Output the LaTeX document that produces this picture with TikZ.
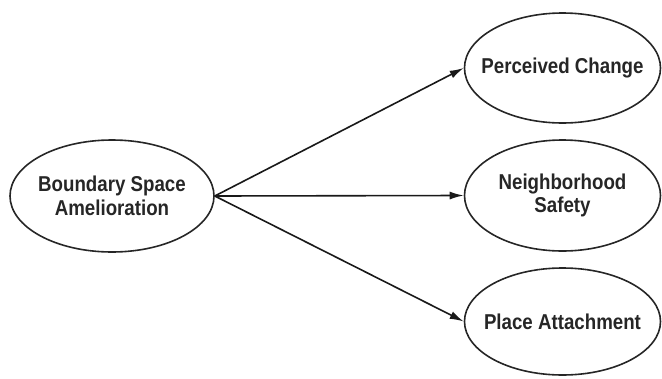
\documentclass[tikz,border=0pt]{standalone}
\usepackage{fontspec}
\setmainfont{Liberation Sans}[FakeStretch=0.87]
\usetikzlibrary{shapes.geometric,arrows.meta}
\begin{document}
\begin{tikzpicture}[x=1pt,y=-1pt,
  construct/.style={ellipse, draw=black!85, line width=1.6pt, inner xsep=-30pt, inner ysep=0pt,
    minimum width=196pt, minimum height=110pt, align=center,
    font=\fontsize{21.5}{23.5}\selectfont\bfseries, text=black!85},
  path/.style={draw=black!90, line width=1.6pt, -{Latex[length=14pt,width=8pt]}}]
\useasboundingbox (0,0) rectangle (662,378);
\node[construct, minimum width=204pt, minimum height=112pt] (bsa) at (112,196) {Boundary Space\\Amelioration};
\node[construct] (pc) at (562.5,68) {Perceived Change};
\node[construct, minimum height=111pt] (ns) at (562.5,195.5) {Neighborhood\\Safety};
\node[construct, minimum height=107pt] (pa) at (562.5,321.5) {Place Attachment};
\draw[path] (bsa.east) -- (pc.west);
\draw[path] (bsa.east) -- (ns.west);
\draw[path] (bsa.east) -- (pa.west);
\end{tikzpicture}
\end{document}
